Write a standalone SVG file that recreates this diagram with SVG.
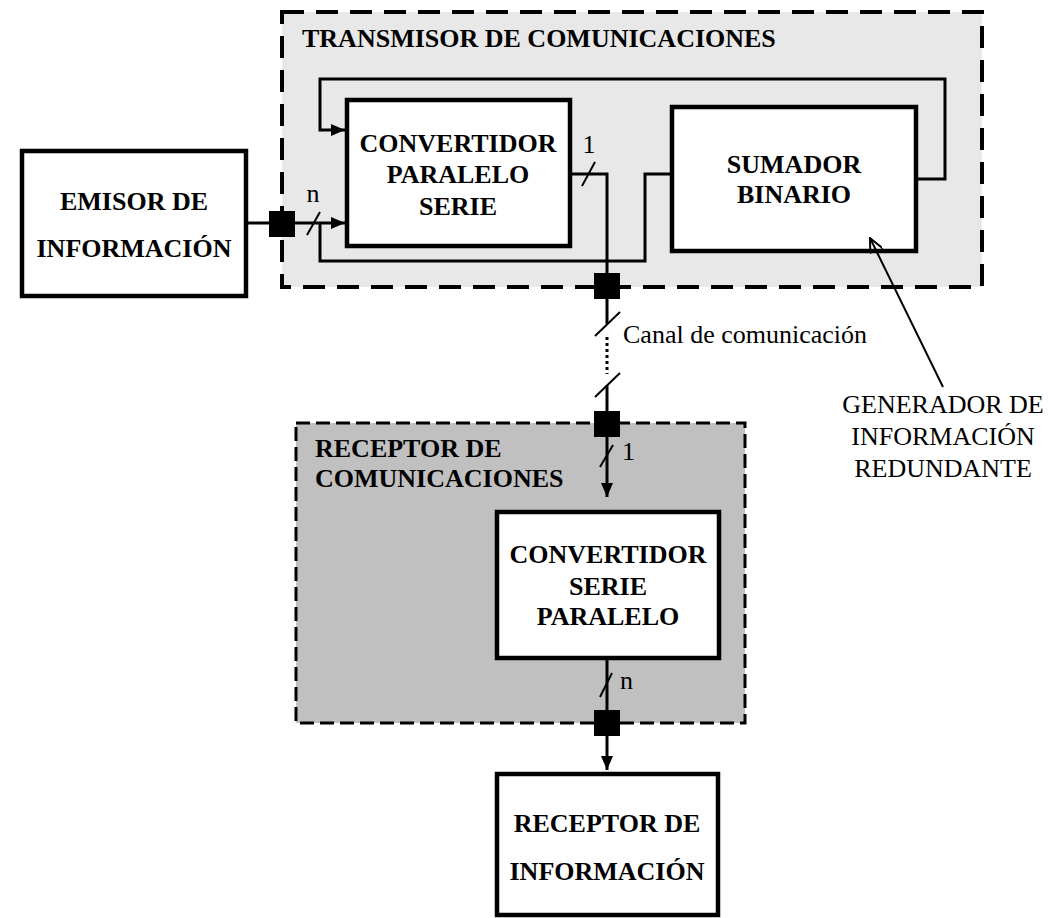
<svg xmlns="http://www.w3.org/2000/svg" width="1048" height="918" viewBox="0 0 1048 918">
<style>
.b{font-family:"Liberation Serif","Times New Roman",serif;font-weight:bold;font-size:26px;text-anchor:middle;fill:#000}
.t{font-family:"Liberation Serif","Times New Roman",serif;font-weight:bold;font-size:26px;fill:#000}
.r{font-family:"Liberation Serif","Times New Roman",serif;font-size:26px;fill:#000}
.box{fill:#fff;stroke:#000;stroke-width:4.5}
.ln{fill:none;stroke:#000;stroke-width:3}
.sl{stroke:#000;stroke-width:2}
.sq{fill:#000}
</style>
<defs>
<marker id="ah" viewBox="0 0 14 12" refX="14" refY="6" markerWidth="14" markerHeight="12" markerUnits="userSpaceOnUse" orient="auto">
<path d="M0,0 L14,6 L0,12 Z" fill="#000"/>
</marker>
<marker id="oh" viewBox="0 0 16 14" refX="15" refY="7" markerWidth="16" markerHeight="14" markerUnits="userSpaceOnUse" orient="auto">
<path d="M0,0 L15,7 L0,14" fill="none" stroke="#000" stroke-width="2"/>
</marker>
</defs>
<g id="transmisor">
<rect x="282" y="12" width="700" height="275" fill="#e8e8e8" stroke="#000" stroke-width="4" stroke-dasharray="22 12"/>
<text class="t" x="302" y="47">TRANSMISOR DE COMUNICACIONES</text>
</g>
<g id="receptor-com">
<rect x="296" y="423" width="449" height="300" fill="#c0c0c0" stroke="#000" stroke-width="3" stroke-dasharray="14 6"/>
<text class="t" x="315" y="457">RECEPTOR DE</text>
<text class="t" x="315" y="487">COMUNICACIONES</text>
</g>
<g id="emisor">
<rect class="box" x="22" y="151" width="224" height="145"/>
<text class="b" x="134" y="210">EMISOR DE</text>
<text class="b" x="134" y="257">INFORMACIÓN</text>
</g>
<g id="conv-ps">
<rect class="box" x="347" y="100" width="223" height="146"/>
<text class="b" x="458" y="152">CONVERTIDOR</text>
<text class="b" x="458" y="183">PARALELO</text>
<text class="b" x="458" y="215">SERIE</text>
</g>
<g id="sumador">
<rect class="box" x="672" y="107" width="244" height="144"/>
<text class="b" x="794" y="173">SUMADOR</text>
<text class="b" x="794" y="203">BINARIO</text>
</g>
<g id="conv-sp">
<rect class="box" x="497" y="512" width="222" height="146"/>
<text class="b" x="608" y="563">CONVERTIDOR</text>
<text class="b" x="608" y="595">SERIE</text>
<text class="b" x="608" y="625">PARALELO</text>
</g>
<g id="receptor-info">
<rect class="box" x="497" y="774" width="221" height="141"/>
<text class="b" x="607" y="832">RECEPTOR DE</text>
<text class="b" x="607" y="880">INFORMACIÓN</text>
</g>
<g id="generador-label">
<text class="r" x="943" y="413" text-anchor="middle" font-weight="normal">GENERADOR DE</text>
<text class="r" x="943" y="445" text-anchor="middle">INFORMACIÓN</text>
<text class="r" x="943" y="477" text-anchor="middle">REDUNDANTE</text>
</g>
<g id="connectors">
<path class="ln" d="M246,223 H345" marker-end="url(#ah)"/>
<path class="ln" d="M916,179 H945 V79 H320 V130 H345" marker-end="url(#ah)"/>
<path class="ln" d="M320,223 V261 H645 V174 H670"/>
<path class="ln" d="M570,174 H607 V324"/>
<path fill="none" stroke="#000" stroke-width="3" stroke-dasharray="3 3" d="M607,337 V374"/>
<path class="ln" d="M607,385 V497" marker-end="url(#ah)"/>
<path class="ln" d="M607,658 V770" marker-end="url(#ah)"/>
<path fill="none" stroke="#000" stroke-width="2" d="M943,387 L870,238" marker-end="url(#oh)"/>
<rect class="sq" x="269" y="211" width="26" height="26"/>
<rect class="sq" x="594" y="273" width="26" height="26"/>
<rect class="sq" x="594" y="411" width="26" height="26"/>
<rect class="sq" x="594" y="710" width="26" height="26"/>
<line class="sl" x1="307" y1="235" x2="320" y2="212"/>
<line class="sl" x1="582" y1="186" x2="595" y2="162"/>
<line class="sl" x1="595" y1="336" x2="620" y2="312"/>
<line class="sl" x1="595" y1="397" x2="620" y2="373"/>
<line class="sl" x1="600" y1="467" x2="613" y2="445"/>
<line class="sl" x1="600" y1="697" x2="612" y2="673"/>
<text class="r" x="313" y="202" text-anchor="middle">n</text>
<text class="r" x="589" y="153" text-anchor="middle">1</text>
<text class="r" x="622" y="460">1</text>
<text class="r" x="620" y="689">n</text>
<text class="r" x="623" y="343">Canal de comunicación</text>
</g>
</svg>
